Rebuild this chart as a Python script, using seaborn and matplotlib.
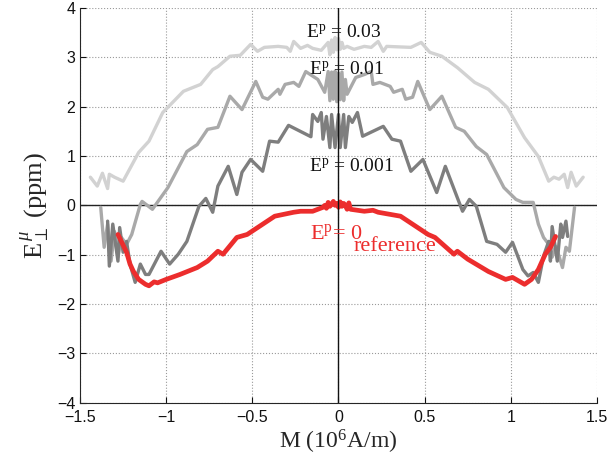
import numpy as np
import pandas as pd
import matplotlib
matplotlib.use("Agg")
import matplotlib.pyplot as plt
import seaborn as sns

# E^p = 0.03 (light gray)
ep03_x = [-1.44, -1.40, -1.37, -1.34, -1.33, -1.30, -1.25, -1.16, -1.10, -1.02, -0.90, -0.80,
          -0.73, -0.70, -0.63, -0.57, -0.51, -0.47, -0.43, -0.35, -0.30, -0.28, -0.26, -0.22,
          -0.18, -0.15, -0.10, -0.06, -0.05, -0.04, -0.03, -0.02, -0.01, 0.00, 0.01, 0.02,
          0.03, 0.05, 0.09, 0.15, 0.19, 0.23, 0.26, 0.28, 0.42, 0.48, 0.53, 0.60, 0.69, 0.79,
          0.87, 0.98, 1.08, 1.16, 1.22, 1.25, 1.28, 1.31, 1.33, 1.35, 1.38, 1.42]
ep03_y = [0.57, 0.39, 0.65, 0.34, 0.63, 0.57, 0.49, 1.07, 1.30, 1.88, 2.31, 2.45,
          2.75, 2.81, 3.02, 3.04, 3.26, 3.12, 3.20, 3.22, 3.20, 3.12, 3.32, 3.18,
          3.24, 3.18, 3.14, 3.30, 3.05, 3.35, 3.10, 3.40, 3.15, 3.38, 3.16, 3.30,
          3.18, 3.22, 3.16, 3.22, 3.20, 3.32, 3.12, 3.22, 3.20, 3.30, 3.10, 3.02, 2.79, 2.49,
          2.35, 1.98, 1.37, 0.99, 0.49, 0.57, 0.53, 0.63, 0.36, 0.67, 0.39, 0.57]

# E^p = 0.01 (medium gray)
ep01_x = [-1.38, -1.36, -1.34, -1.32, -1.30, -1.28, -1.26, -1.23, -1.20, -1.15, -1.14, -1.08,
          -0.99, -0.88, -0.82, -0.76, -0.70, -0.63, -0.56, -0.48, -0.44, -0.41, -0.35, -0.34,
          -0.31, -0.26, -0.23, -0.19, -0.12, -0.08, -0.06, -0.05, -0.04, -0.03, -0.02, -0.01,
          0.00, 0.01, 0.02, 0.03, 0.04, 0.05, 0.10, 0.15, 0.19, 0.20, 0.24, 0.30, 0.32, 0.37,
          0.39, 0.43, 0.46, 0.53, 0.60, 0.68, 0.73, 0.80, 0.86, 0.96, 1.03, 1.07, 1.13, 1.16,
          1.19, 1.22, 1.24, 1.26, 1.28, 1.30, 1.32, 1.34, 1.37]
ep01_y = [-0.04, -0.85, -0.38, -1.13, -0.53, -1.05, -0.65, -0.79, -0.59, 0.02, 0.08, -0.08,
          0.36, 1.09, 1.23, 1.54, 1.58, 2.21, 1.94, 2.51, 2.19, 2.15, 2.35, 2.25,
          2.45, 2.49, 2.41, 2.71, 2.55, 2.29, 2.71, 2.12, 2.70, 2.15, 2.72, 2.10,
          2.68, 2.14, 2.70, 2.12, 2.55, 2.25, 2.59, 2.65, 2.71, 2.45, 2.49, 2.41, 2.29, 2.35,
          2.15, 2.19, 2.51, 1.94, 2.21, 1.58, 1.50, 1.19, 1.03, 0.36, 0.12, 0.06, 0.06, -0.38,
          -0.65, -0.79, -1.05, -0.83, -1.03, -1.26, -0.85, -0.93, -0.04]

# E^p = 0.001 (dark gray)
ep001_x = [-1.34, -1.33, -1.31, -1.28, -1.27, -1.25, -1.23, -1.21, -1.18, -1.15, -1.12, -1.10,
           -1.03, -0.98, -0.93, -0.88, -0.81, -0.77, -0.73, -0.70, -0.64, -0.59, -0.56, -0.51,
           -0.44, -0.40, -0.35, -0.29, -0.16, -0.15, -0.12, -0.10, -0.09, -0.07, -0.05, -0.04,
           -0.02, 0.00, 0.01, 0.03, 0.04, 0.06, 0.08, 0.11, 0.14, 0.26, 0.31, 0.36, 0.42, 0.49,
           0.57, 0.62, 0.72, 0.76, 0.80, 0.86, 0.92, 0.97, 1.01, 1.07, 1.10, 1.13, 1.16, 1.19,
           1.22, 1.23, 1.24, 1.27, 1.29, 1.30, 1.32, 1.33]
ep001_y = [-0.32, -1.23, -0.38, -1.13, -0.45, -0.95, -0.73, -1.19, -1.56, -1.19, -1.40, -1.40,
           -0.93, -1.19, -0.99, -0.73, -0.02, 0.14, -0.14, 0.39, 0.79, 0.22, 0.67, 0.93,
           0.69, 1.30, 1.28, 1.62, 1.39, 1.84, 1.70, 1.88, 1.34, 1.80, 1.17, 1.84,
           1.17, 1.84, 1.17, 1.84, 1.17, 1.80, 1.68, 1.88, 1.40, 1.60, 1.34, 1.30, 0.69, 0.93,
           0.26, 0.79, -0.12, 0.12, -0.02, -0.73, -0.79, -0.95, -0.75, -1.30, -1.43, -1.36, -1.56, -1.03,
           -0.73, -1.13, -0.43, -1.13, -0.38, -0.65, -0.32, -0.63]

# E^p = 0 reference (red)
ref_x = [-1.28, -1.23, -1.21, -1.19, -1.16, -1.12, -1.10, -1.07, -1.05, -1.00, -0.92, -0.82,
         -0.76, -0.70, -0.67, -0.59, -0.53, -0.37, -0.26, -0.22, -0.15, -0.09, -0.08, -0.07,
         -0.06, -0.05, -0.04, -0.03, -0.02, -0.01, 0.00, 0.01, 0.02, 0.03, 0.04, 0.05,
         0.06, 0.07, 0.15, 0.20, 0.23, 0.36, 0.52, 0.56, 0.67, 0.69, 0.75, 0.87,
         0.97, 1.01, 1.05, 1.08, 1.12, 1.16, 1.20, 1.23, 1.26]
ref_y = [-0.59, -0.95, -1.19, -1.34, -1.50, -1.60, -1.63, -1.55, -1.57, -1.50, -1.40, -1.26,
         -1.13, -0.93, -0.99, -0.65, -0.59, -0.22, -0.14, -0.12, -0.12, -0.04, 0.00, -0.06,
         0.06, -0.02, 0.02, 0.08, 0.00, 0.04, -0.04, 0.07, -0.02, 0.04, 0.00, -0.08,
         0.05, -0.08, -0.12, -0.10, -0.14, -0.22, -0.59, -0.65, -0.99, -0.93, -1.09, -1.34,
         -1.50, -1.46, -1.54, -1.60, -1.50, -1.30, -0.99, -0.85, -0.63]

x_ticks = [-1.5, -1, -0.5, 0, 0.5, 1, 1.5]
x_ticklabels = ["\u22121.5", "\u22121", "\u22120.5", "0", "0.5", "1", "1.5"]
y_ticks = [-4, -3, -2, -1, 0, 1, 2, 3, 4]
y_ticklabels = ["\u22124", "\u22123", "\u22122", "\u22121", "0", "1", "2", "3", "4"]

sns.set_style("ticks")
plt.rcParams["font.family"] = ["Liberation Sans", "DejaVu Sans"]
plt.rcParams["mathtext.fontset"] = "custom"
plt.rcParams["mathtext.rm"] = "Liberation Serif"
plt.rcParams["mathtext.it"] = "Liberation Serif:italic"
plt.rcParams["mathtext.bf"] = "Liberation Serif:bold"

fig = plt.figure(figsize=(6.11, 4.63), dpi=100)
ax = fig.add_axes([0.131, 0.13, 0.846, 0.853])

ax.grid(True, linestyle=":", color="#9a9a9a", linewidth=0.8)
ax.axhline(0, color="#222222", linewidth=1.0, zorder=1)
ax.axvline(0, color="#111111", linewidth=1.0, zorder=6)

sns.lineplot(x=ep03_x, y=ep03_y, ax=ax, color="#d2d2d2", linewidth=2.4, sort=False, estimator=None)
sns.lineplot(x=ep01_x, y=ep01_y, ax=ax, color="#a9a9a9", linewidth=2.4, sort=False, estimator=None)
sns.lineplot(x=ep001_x, y=ep001_y, ax=ax, color="#7e7e7e", linewidth=2.4, sort=False, estimator=None)
sns.lineplot(x=ref_x, y=ref_y, ax=ax, color="#ec2d2d", linewidth=3.4, sort=False, estimator=None)

serif = ["Liberation Serif", "DejaVu Serif"]
ax.text(-0.19, 3.40, r"E$^{\rm p}$ = 0.03", fontsize=14, family=serif, color="#111111", zorder=7)
ax.text(-0.17, 2.65, r"E$^{\rm p}$ = 0.01", fontsize=14, family=serif, color="#111111", zorder=7)
ax.text(-0.17, 0.69, r"E$^{\rm p}$ = 0.001", fontsize=14, family=serif, color="#111111", zorder=7)
ax.text(-0.165, -0.69, r"E$^{\rm p}$= 0", fontsize=16, family=serif, color="#ec2d2d", zorder=7)
ax.text(0.087, -0.93, "reference", fontsize=16, family=serif, color="#ec2d2d", zorder=7)

ax.set_xlim(-1.5, 1.5)
ax.set_ylim(-4, 4)
ax.set_xticks(x_ticks)
ax.set_xticklabels(x_ticklabels)
ax.set_yticks(y_ticks)
ax.set_yticklabels(y_ticklabels)
ax.tick_params(direction="in", length=4, labelsize=11.5, colors="#111111")
ax.tick_params(axis="x", pad=5)
for s in ["top", "right"]:
    ax.spines[s].set_visible(False)

ax.set_xlabel(r"M (10$^{6}$A/m)", fontsize=17, family=serif, labelpad=2)
ax.set_ylabel(r"E$_{\perp}^{\,\mu}$ (ppm)", fontsize=19, family=serif, labelpad=4)

fig.savefig("out.png", dpi=100)
